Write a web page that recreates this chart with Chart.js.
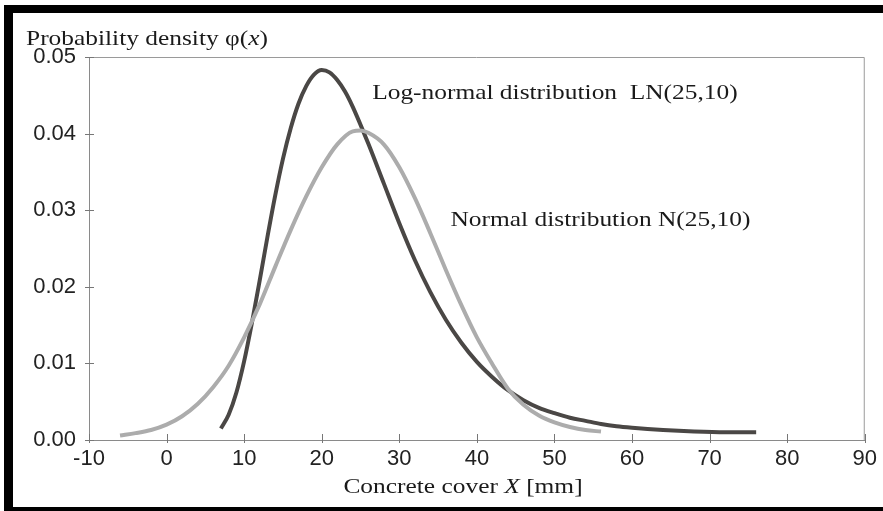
<!DOCTYPE html>
<html>
<head>
<meta charset="utf-8">
<script src="https://cdn.jsdelivr.net/npm/chart.js@4.4.1/dist/chart.umd.min.js"></script>
<style>
  html, body { margin: 0; padding: 0; background: #fff; overflow: hidden; }
  #wrap { position: relative; width: 883px; height: 511px; }
  .frame { position: absolute; background: #000; }
</style>
</head>
<body>
<div id="wrap">
  <canvas id="grafico" width="883" height="511"></canvas>
  <div class="frame" style="left:4px; top:5px; width:879px; height:8px;"></div>
  <div class="frame" style="left:4px; top:5px; width:9px; height:506px;"></div>
  <div class="frame" style="left:4px; top:507px; width:879px; height:4px;"></div>
</div>
<script>
// Eixos
const xTicks = [-10, 0, 10, 20, 30, 40, 50, 60, 70, 80, 90];
const yTicks = [0, 0.01, 0.02, 0.03, 0.04, 0.05];

// Curva normal N(25,10)
const normalX = [-6, -4, -2, 0, 2, 4, 6, 8, 10, 12, 14, 16, 18, 20, 22, 24, 25, 26, 28, 30, 32, 34, 36, 38, 40, 42, 44, 46, 48, 50, 52, 54, 56];
const normalY = [0.0006, 0.0009, 0.0013, 0.0020, 0.0031, 0.0047, 0.0069, 0.0097, 0.0134, 0.0177, 0.0226, 0.0274, 0.0318, 0.0356, 0.0386, 0.0403, 0.0404, 0.0401, 0.0386, 0.0356, 0.0316, 0.0270, 0.0222, 0.0176, 0.0134, 0.0099, 0.0067, 0.0046, 0.0032, 0.0023, 0.0017, 0.0013, 0.0011];

// Curva log-normal LN(25,10)
const lognX = [7, 8, 9, 10, 11, 12, 13, 14, 15, 16, 17, 18, 19, 20, 21, 22, 23, 24, 26, 28, 30, 32, 34, 36, 38, 40, 42, 44, 46, 48, 50, 52, 54, 56, 58, 60, 64, 68, 72, 76];
const lognY = [0.0015, 0.0033, 0.0062, 0.0103, 0.0153, 0.0208, 0.0265, 0.0319, 0.0367, 0.0407, 0.0439, 0.0462, 0.0477, 0.0483, 0.0480, 0.0470, 0.0455, 0.0435, 0.0387, 0.0335, 0.0283, 0.0235, 0.0193, 0.0157, 0.0127, 0.0102, 0.0082, 0.0065, 0.0052, 0.0042, 0.0035, 0.0029, 0.0025, 0.0021, 0.0018, 0.0016, 0.0013, 0.0011, 0.0010, 0.0010];

// Textos
const tituloY = ['Probability density φ(', 'x', ')'];
const tituloX = ['Concrete cover ', 'X', ' [mm]'];
const rotuloLogn = ['Log-normal distribution  LN(25,10)'];
const rotuloNormal = ['Normal distribution N(25,10)'];

const serif = '"Liberation Serif", "DejaVu Serif", serif';
const esticar = 1.21; // o texto da figura original está mais largo

function pares(xs, ys) {
    return xs.map((x, i) => ({ x: x, y: ys[i] }));
}

// Escreve um texto (a parte de índice 1 vai em itálico), esticado na horizontal
function textoMisto(ctx, partes, x, y, tamanho, alinhar) {
    const fontes = partes.map((p, i) => (i === 1 ? 'italic ' : '') + tamanho + 'px ' + serif);
    let total = 0;
    partes.forEach((p, i) => { ctx.font = fontes[i]; total += ctx.measureText(p).width; });
    ctx.save();
    ctx.translate(alinhar === 'center' ? x - total * esticar / 2 : x, y);
    ctx.scale(esticar, 1);
    ctx.textAlign = 'left';
    ctx.textBaseline = 'alphabetic';
    let cx = 0;
    partes.forEach((p, i) => {
        ctx.font = fontes[i];
        ctx.fillText(p, cx, 0);
        cx += ctx.measureText(p).width;
    });
    ctx.restore();
}

// Plugin para moldura, marcas e textos
const extras = {
    id: 'extras',
    afterDatasetsDraw(chart) {
        const ctx = chart.ctx;
        const a = chart.chartArea;
        const sx = chart.scales.x;
        const sy = chart.scales.y;
        ctx.save();
        // borda superior e direita
        ctx.strokeStyle = '#9a9a9a';
        ctx.lineWidth = 1;
        ctx.beginPath();
        ctx.moveTo(a.left, a.top + 0.5);
        ctx.lineTo(a.right - 0.5, a.top + 0.5);
        ctx.lineTo(a.right - 0.5, a.bottom);
        ctx.stroke();
        // marcas cruzando os eixos
        ctx.strokeStyle = '#777';
        ctx.beginPath();
        xTicks.forEach(v => {
            const px = Math.round(sx.getPixelForValue(v)) + 0.5;
            ctx.moveTo(px, a.bottom - 6);
            ctx.lineTo(px, a.bottom + 3);
        });
        yTicks.forEach(v => {
            const py = Math.round(sy.getPixelForValue(v)) + 0.5;
            ctx.moveTo(a.left - 4, py);
            ctx.lineTo(a.left + 5, py);
        });
        ctx.stroke();
        // textos
        ctx.fillStyle = '#1a1a1a';
        textoMisto(ctx, tituloY, 26, 45, 21, 'left');
        textoMisto(ctx, tituloX, 463, 493, 21, 'center');
        textoMisto(ctx, rotuloLogn, sx.getPixelForValue(26.5), sy.getPixelForValue(0.0445), 21, 'left');
        textoMisto(ctx, rotuloNormal, sx.getPixelForValue(36.6), sy.getPixelForValue(0.0279), 21, 'left');
        ctx.restore();
    }
};

const dadosGrafico = {
    datasets: [{
        label: 'Normal N(25,10)',
        data: pares(normalX, normalY),
        borderColor: '#acacac',
        borderWidth: 4,
        pointRadius: 0,
        cubicInterpolationMode: 'monotone'
    }, {
        label: 'Log-normal LN(25,10)',
        data: pares(lognX, lognY),
        borderColor: '#4a4745',
        borderWidth: 4,
        pointRadius: 0,
        cubicInterpolationMode: 'monotone'
    }]
};

const fonteEixo = { family: '"Liberation Sans", Arial, sans-serif', size: 22 };

const configGrafico = {
    type: 'line',
    data: dadosGrafico,
    options: {
        responsive: false,
        animation: false,
        layout: { padding: { left: 0, top: 57, right: 13, bottom: 0 } },
        plugins: {
            legend: { display: false },
            tooltip: { enabled: false }
        },
        scales: {
            x: {
                type: 'linear',
                min: -10,
                max: 90,
                afterBuildTicks: s => { s.ticks = xTicks.map(v => ({ value: v })); },
                afterFit: s => { s.height = 71; },
                grid: { display: false, drawTicks: false },
                border: { display: true, color: '#8a8a8a', width: 1 },
                ticks: { padding: 6, color: '#222', font: fonteEixo, maxRotation: 0 }
            },
            y: {
                type: 'linear',
                min: 0,
                max: 0.05,
                afterBuildTicks: s => { s.ticks = yTicks.map(v => ({ value: v })); },
                afterFit: s => { s.width = 89; },
                grid: { display: false, drawTicks: false },
                border: { display: true, color: '#8a8a8a', width: 1 },
                ticks: {
                    padding: 13,
                    color: '#222',
                    font: fonteEixo,
                    callback: v => v.toFixed(2)
                }
            }
        }
    },
    plugins: [extras]
};

const grafico = new Chart(document.getElementById('grafico'), configGrafico);
</script>
</body>
</html>
